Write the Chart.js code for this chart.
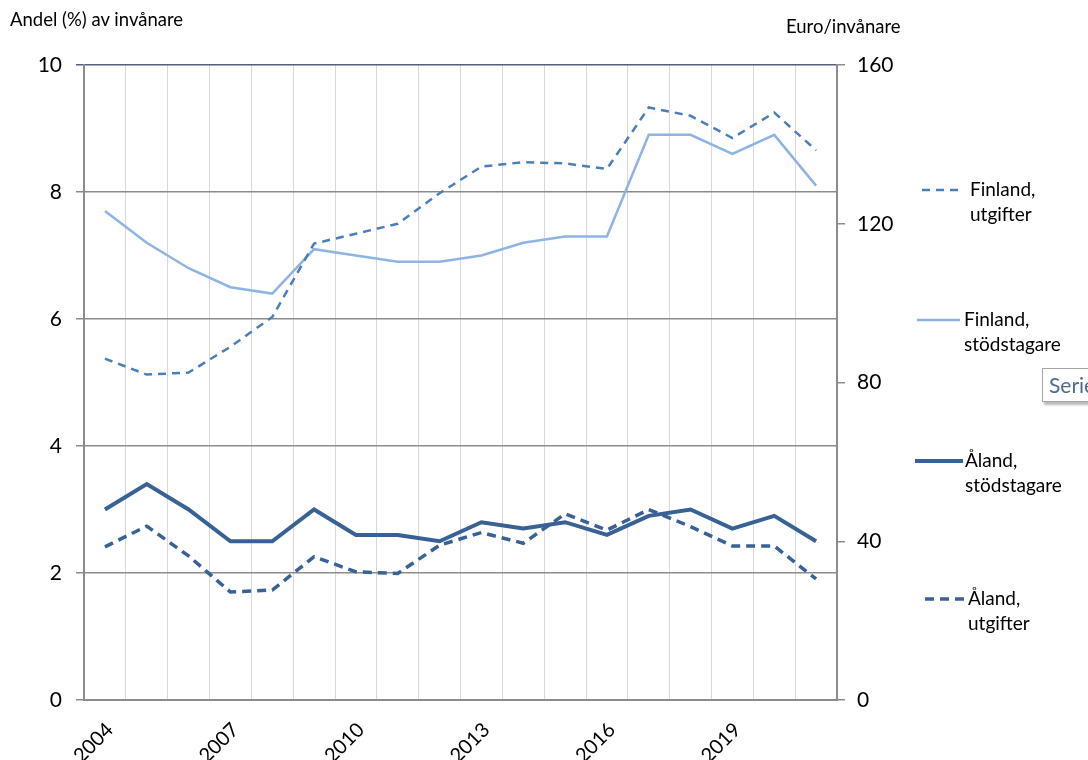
<!DOCTYPE html>
<html>
<head>
<meta charset="utf-8">
<script src="https://cdn.jsdelivr.net/npm/chart.js@4.4.1/dist/chart.umd.min.js"></script>
<style>
  html, body { margin: 0; padding: 0; background: #fff; }
  #wrap { position: relative; width: 1088px; height: 760px; overflow: hidden; font-family: Lato, "Open Sans", sans-serif; }
  #chart { position: absolute; left: 0; top: 0; }
  .axtitle { position: absolute; font-size: 18.5px; color: #000; }
  #serie { position: absolute; left: 1042px; top: 368px; width: 60px; height: 32px; border: 1px solid #a6a6a6;
    box-shadow: 2px 3px 2px #bbb; background: #fff; color: #4f6b8d; font-size: 21px; line-height: 32px; padding-left: 6px; }
</style>
</head>
<body>
<div id="wrap">
  <canvas id="chart" width="1088" height="760"></canvas>
  <div class="axtitle" style="left:10px; top:8px;">Andel (%) av invånare</div>
  <div class="axtitle" style="left:786px; top:15px;">Euro/invånare</div>
  <div id="serie">Serie</div>
</div>
<script>
const years = ['2004','2005','2006','2007','2008','2009','2010','2011','2012','2013','2014','2015','2016','2017','2018','2019','2020','2021'];
const leftTicks = [0, 2, 4, 6, 8, 10];
const rightTicks = [0, 40, 80, 120, 160];

// andel (%) av invånare
const finlandStod = [7.7, 7.2, 6.8, 6.5, 6.4, 7.1, 7.0, 6.9, 6.9, 7.0, 7.2, 7.3, 7.3, 8.9, 8.9, 8.6, 8.9, 8.1];
const alandStod = [3.0, 3.4, 3.0, 2.5, 2.5, 3.0, 2.6, 2.6, 2.5, 2.8, 2.7, 2.8, 2.6, 2.9, 3.0, 2.7, 2.9, 2.5];
// euro / invånare
const finlandUtg = [86, 82, 82.5, 89, 96.5, 115, 117.5, 120, 127.7, 134.4, 135.5, 135.2, 133.8, 149.3, 147.2, 141.6, 148, 138.5];
const alandUtg = [38.6, 43.8, 36.3, 27.2, 27.7, 36.1, 32.3, 31.9, 39, 42.2, 39.5, 46.9, 42.8, 48, 43.7, 38.8, 38.8, 30.5];

const colMid = '#4a7ebb';
const colLight = '#8db4e2';
const colDark = '#386196';
const fontFam = 'Lato, "Open Sans", sans-serif';

// legend drawn next to the plot, one block per series
const legendSpots = [
  { ds: 0, x1: 922, x2: 960, y: 190, tx: 970 },
  { ds: 1, x1: 917, x2: 960, y: 320, tx: 964 },
  { ds: 2, x1: 915, x2: 963, y: 461, tx: 965 },
  { ds: 3, x1: 925, x2: 965, y: 599, tx: 968 }
];
const sideLegend = {
  id: 'sideLegend',
  afterDraw(chart) {
    const ctx = chart.ctx;
    ctx.save();
    legendSpots.forEach(s => {
      const d = chart.data.datasets[s.ds];
      ctx.strokeStyle = d.borderColor;
      ctx.lineWidth = d.borderWidth;
      ctx.setLineDash(d.borderDash || []);
      ctx.beginPath();
      ctx.moveTo(s.x1, s.y);
      ctx.lineTo(s.x2, s.y);
      ctx.stroke();
      ctx.setLineDash([]);
      ctx.fillStyle = '#000';
      ctx.font = '19px ' + fontFam;
      ctx.textBaseline = 'middle';
      ctx.textAlign = 'left';
      const lines = d.label.split(' ');
      lines.forEach((t, i) => ctx.fillText(t, s.tx, s.y + i * 25));
    });
    ctx.restore();
  }
};

new Chart(document.getElementById('chart'), {
  type: 'line',
  data: {
    labels: years,
    datasets: [
      { label: 'Finland, utgifter', data: finlandUtg, yAxisID: 'yR', borderColor: colMid, borderWidth: 2.5, borderDash: [8, 6] },
      { label: 'Finland, stödstagare', data: finlandStod, yAxisID: 'yL', borderColor: colLight, borderWidth: 2.5 },
      { label: 'Åland, stödstagare', data: alandStod, yAxisID: 'yL', borderColor: colDark, borderWidth: 4 },
      { label: 'Åland, utgifter', data: alandUtg, yAxisID: 'yR', borderColor: colDark, borderWidth: 3.5, borderDash: [9, 6] }
    ]
  },
  options: {
    responsive: false,
    animation: false,
    events: [],
    elements: { point: { radius: 0 }, line: { tension: 0, borderCapStyle: 'butt' } },
    layout: { padding: { top: 65, left: 0, right: 0, bottom: 0 } },
    plugins: { legend: { display: false }, tooltip: { enabled: false } },
    scales: {
      x: {
        offset: true,
        grid: { offset: true, color: '#d9d9d9', lineWidth: 1, drawTicks: false },
        border: { color: '#8c8c8c', width: 2 },
        ticks: {
          autoSkip: false, minRotation: 45, maxRotation: 45, padding: 18, labelOffset: 5,
          color: '#000', font: { family: fontFam, size: 20 },
          callback: function (v, i) { return i % 3 === 0 ? this.getLabelForValue(v) : ''; }
        },
        afterFit(s) { s.height = 60; }
      },
      yL: {
        position: 'left', min: 0, max: 10,
        afterBuildTicks(s) { s.ticks = leftTicks.map(v => ({ value: v })); },
        grid: {
          color: ctx => ctx.tick && ctx.tick.value === 10 ? '#55627a' : '#8c8c8c',
          lineWidth: 1.5, tickLength: 8
        },
        border: { color: '#8c8c8c', width: 2 },
        ticks: { padding: 14, color: '#000', font: { family: fontFam, size: 21 } },
        afterFit(s) { s.width = 84; }
      },
      yR: {
        position: 'right', min: 0, max: 160,
        afterBuildTicks(s) { s.ticks = rightTicks.map(v => ({ value: v })); },
        grid: { drawOnChartArea: false, color: '#8c8c8c', lineWidth: 1.5, tickLength: 8 },
        border: { color: '#8c8c8c', width: 2 },
        ticks: { padding: 12, color: '#000', font: { family: fontFam, size: 21 } },
        afterFit(s) { s.width = 251; }
      }
    }
  },
  plugins: [sideLegend]
});
</script>
</body>
</html>
